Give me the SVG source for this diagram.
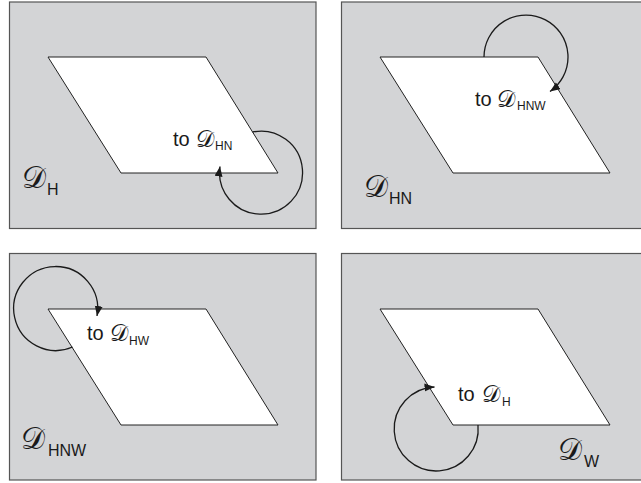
<svg xmlns="http://www.w3.org/2000/svg" width="641" height="483" viewBox="0 0 641 483">
<style>
.panel{fill:#d3d4d6;stroke:#555;stroke-width:1.2}
.region{fill:#fff;stroke:#222;stroke-width:1}
.loop{fill:none;stroke:#1a1a1a;stroke-width:1.3;marker-end:url(#ah)}
.t{font-family:"Liberation Sans",Arial,sans-serif;fill:#1a1a1a}
.to{font-size:20px}
.sub{font-size:12px}
.csub{font-size:16px}
.d{font-family:"DejaVu Serif","Noto Sans","Liberation Serif",serif;fill:#1a1a1a}
.di{font-size:23px}
.dc{font-size:30px}
</style>
<defs>
<marker id="ah" markerUnits="userSpaceOnUse" markerWidth="11" markerHeight="9" refX="10" refY="4" orient="auto">
<path d="M0,0 L10,4 L0,8 z" fill="#1a1a1a"/>
</marker>
</defs>
<g id="panel-H">
<rect class="panel" x="9.5" y="2" width="306.5" height="226.5"/>
<polygon class="region" points="48,57 206,57 278,173 121,173"/>
<text class="t to" x="173" y="146">to</text>
<text class="d di" x="196" y="147">𝒟</text>
<text class="t sub" x="215" y="150">HN</text>
<text class="d dc" x="22" y="188">𝒟</text>
<text class="t csub" x="47" y="195">H</text>
</g>
<g id="panel-HN">
<rect class="panel" x="341.5" y="2" width="306.5" height="226.5"/>
<polygon class="region" points="380,57 538,57 610,173 453,173"/>
<text class="t to" x="475" y="106">to</text>
<text class="d di" x="497" y="107">𝒟</text>
<text class="t sub" x="517" y="110">HNW</text>
<text class="d dc" x="364" y="197">𝒟</text>
<text class="t csub" x="389" y="204">HN</text>
</g>
<g id="panel-HNW">
<rect class="panel" x="9.5" y="253.5" width="306.5" height="226.5"/>
<polygon class="region" points="48,309 206,309 278,425 121,425"/>
<text class="t to" x="87" y="340">to</text>
<text class="d di" x="110" y="341">𝒟</text>
<text class="t sub" x="129" y="345">HW</text>
<text class="d dc" x="21" y="449">𝒟</text>
<text class="t csub" x="48" y="456">HNW</text>
</g>
<g id="panel-W">
<rect class="panel" x="341.5" y="253.5" width="306.5" height="226.5"/>
<polygon class="region" points="380,309 538,309 610,425 453,425"/>
<text class="t to" x="458" y="401">to</text>
<text class="d di" x="482" y="402">𝒟</text>
<text class="t sub" x="502" y="406">H</text>
<text class="d dc" x="558" y="460">𝒟</text>
<text class="t csub" x="584" y="467">W</text>
</g>
<g id="connectors">
<path class="loop" d="M252.6,132 A41.5,41.5 0 1 1 220,166.5"/>
<path class="loop" d="M484,57 A42,42 0 1 1 550,91.5"/>
<path class="loop" d="M72.5,347 A42,42 0 1 1 97,316"/>
<path class="loop" d="M478,425 A42,42 0 1 1 434.5,387"/>
</g>
</svg>
